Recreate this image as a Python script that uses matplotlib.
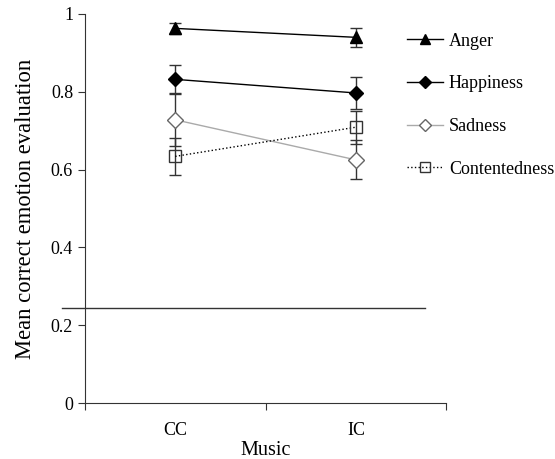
import matplotlib
matplotlib.use("Agg")
import matplotlib.pyplot as plt
from matplotlib.lines import Line2D

plt.rcParams['font.family'] = ['Liberation Serif', 'DejaVu Serif']

# data
music = ["CC", "IC"]
anger = [0.963, 0.940]
anger_err = [0.014, 0.025]
happiness = [0.832, 0.797]
happiness_err = [0.037, 0.041]
sadness = [0.728, 0.625]
sadness_err = [0.068, 0.050]
contentedness = [0.634, 0.709]
contentedness_err = [0.047, 0.042]
chance = 0.245

xpos = [0.5, 1.5]

fig = plt.figure(figsize=(5.55, 4.59), dpi=100)
ax = fig.add_axes([0.153, 0.122, 0.651, 0.8475])

ax.errorbar(xpos, anger, yerr=anger_err, color="black", lw=1, marker="^", ms=8,
            mfc="black", mec="black", ecolor="#333333", elinewidth=1, capsize=4)
ax.errorbar(xpos, happiness, yerr=happiness_err, color="black", lw=1, marker="D", ms=7,
            mfc="black", mec="black", ecolor="#333333", elinewidth=1, capsize=4)
ax.errorbar(xpos, sadness, yerr=sadness_err, color="#aaaaaa", lw=1, marker="D", ms=8,
            mfc="white", mec="#666666", ecolor="#333333", elinewidth=1, capsize=4)
ax.errorbar(xpos, contentedness, yerr=contentedness_err, color="black", lw=1, ls=":",
            marker="s", ms=9, mfc="none", mec="#333333", ecolor="#333333",
            elinewidth=1, capsize=4)

# chance level line
ax.plot([-0.127, 1.88], [chance, chance], color="#333333", lw=1, clip_on=False)

ax.set_xlim(0, 2)
ax.set_ylim(0, 1)
ax.spines["top"].set_visible(False)
ax.spines["right"].set_visible(False)
ax.spines["left"].set_color("#333333")
ax.spines["bottom"].set_color("#333333")

ax.set_yticks([0, 0.2, 0.4, 0.6, 0.8, 1.0])
ax.set_yticklabels(["0", "0.2", "0.4", "0.6", "0.8", "1"])
ax.set_xticks([0, 1, 2])
ax.set_xticklabels([])
ax.set_xticks(xpos, minor=True)
ax.set_xticklabels(music, minor=True)
ax.tick_params(axis="x", which="minor", length=0, pad=14, labelsize=13)
ax.tick_params(axis="both", which="major", direction="out", length=5,
               color="#333333", labelsize=13)
ax.set_ylabel("Mean correct emotion evaluation", fontsize=16.3, labelpad=11)
ax.set_xlabel("Music", fontsize=14.5, labelpad=1)

handles = [
    Line2D([], [], color="black", lw=1, marker="^", ms=7, mfc="black", mec="black"),
    Line2D([], [], color="black", lw=1, marker="D", ms=6, mfc="black", mec="black"),
    Line2D([], [], color="#aaaaaa", lw=1, marker="D", ms=6, mfc="white", mec="#666666"),
    Line2D([], [], color="black", lw=1, ls=":", marker="s", ms=7, mfc="none", mec="#333333"),
]
fig.legend(handles, ["Anger", "Happiness", "Sadness", "Contentedness"],
           loc="upper left", bbox_to_anchor=(0.707, 0.96), frameon=False,
           fontsize=13, labelspacing=1.42, handlelength=2.0, handletextpad=0.33,
           borderpad=0.3)

fig.savefig("out.png", dpi=100)
